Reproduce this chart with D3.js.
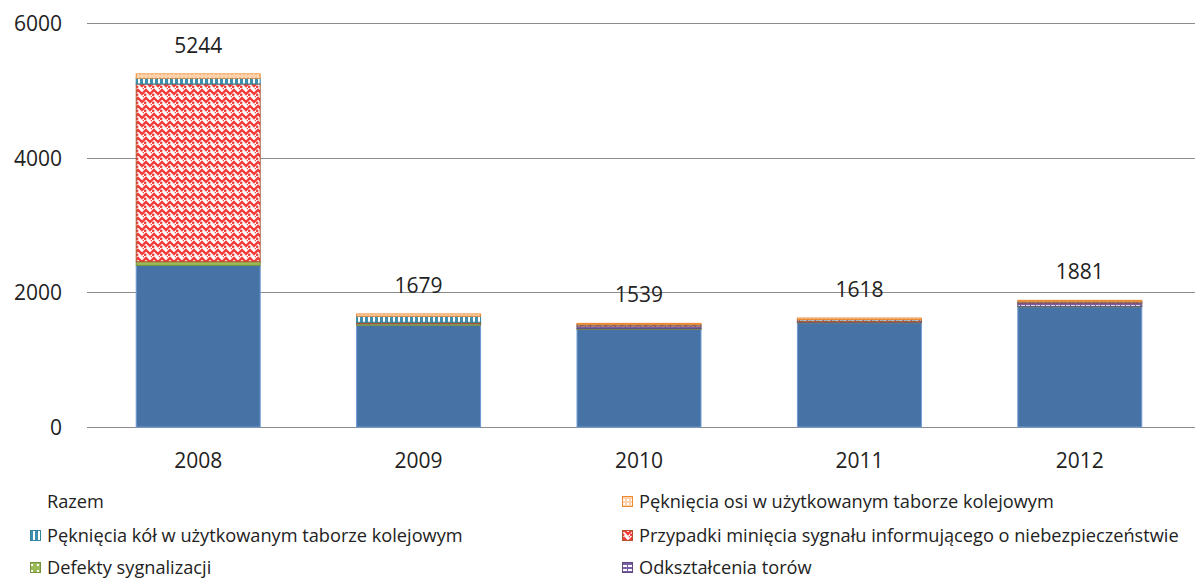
<!DOCTYPE html>
<html>
<head>
<meta charset="utf-8">
<script src="https://cdn.jsdelivr.net/npm/d3@7"></script>
<style>
	body { margin: 0; background: #fff; }
	text { font-family: "Open Sans", sans-serif; fill: #222; }
</style>
</head>
<body>
<div id="chart"></div>
<script>
// Dane
var years = ["2008", "2009", "2010", "2011", "2012"];
var razem = [5244, 1679, 1539, 1618, 1881];
var szyny = [2400, 1510, 1455, 1550, 1790];
var defekty = [55, 25, 5, 5, 3];
var tory = [0, 5, 40, 10, 50];
var minieciaSygnalu = [2640, 15, 20, 30, 20];
var pekniecieKol = [85, 90, 4, 3, 3];
var pekniecieOsi = [64, 34, 15, 20, 15];
var yTicks = [0, 2000, 4000, 6000];

var width = 1195, height = 581;

// serie od dołu do góry
var series = [
	{name: "Pęknięcia szyn", values: szyny, fill: "#4672a5", stroke: "#6e9ad6", legend: false},
	{name: "Defekty sygnalizacji", values: defekty, fill: "url(#pDef)", stroke: "#77933c", legend: true},
	{name: "Odkształcenia torów", values: tory, fill: "url(#pTory)", stroke: "#604a7b", legend: true},
	{name: "Przypadki minięcia sygnału informującego o niebezpieczeństwie", values: minieciaSygnalu, fill: "url(#pSyg)", stroke: "#b0532a", legend: true},
	{name: "Pęknięcia kół w użytkowanym taborze kolejowym", values: pekniecieKol, fill: "url(#pKol)", stroke: "#31859c", legend: true},
	{name: "Pęknięcia osi w użytkowanym taborze kolejowym", values: pekniecieOsi, fill: "url(#pOsi)", stroke: "#f08a30", legend: true}
];

var svg = d3.select("#chart").append("svg")
	.attr("width", width)
	.attr("height", height);

// wzory
var defs = svg.append("defs");

var p = defs.append("pattern").attr("id", "pDef").attr("patternUnits", "userSpaceOnUse").attr("width", 6).attr("height", 6);
p.append("rect").attr("width", 6).attr("height", 6).attr("fill", "#9bbb59");
p.append("rect").attr("x", 1).attr("y", 2).attr("width", 2).attr("height", 2).attr("fill", "#fff");

p = defs.append("pattern").attr("id", "pTory").attr("patternUnits", "userSpaceOnUse").attr("width", 5).attr("height", 4);
p.append("rect").attr("width", 5).attr("height", 4).attr("fill", "#fff");
p.append("rect").attr("width", 5).attr("height", 1).attr("fill", "#7a5ea8");
p.append("rect").attr("y", 3).attr("width", 5).attr("height", 1).attr("fill", "#7a5ea8");
p.append("rect").attr("x", 0).attr("width", 1).attr("height", 4).attr("fill", "#7a5ea8");

p = defs.append("pattern").attr("id", "pSyg").attr("patternUnits", "userSpaceOnUse").attr("width", 8).attr("height", 8);
p.append("rect").attr("width", 8).attr("height", 8).attr("fill", "#fff");
p.append("path").attr("d", "M-2,6 L2,2 L6,6 L10,2 M-2,10 L2,6 M6,-2 L10,2").attr("stroke", "#f43c3c").attr("stroke-width", 2.4).attr("fill", "none");

p = defs.append("pattern").attr("id", "pKol").attr("patternUnits", "userSpaceOnUse").attr("width", 5).attr("height", 5);
p.append("rect").attr("width", 5).attr("height", 5).attr("fill", "#fff");
p.append("rect").attr("width", 3).attr("height", 5).attr("fill", "#3d8fb0");

p = defs.append("pattern").attr("id", "pOsi").attr("patternUnits", "userSpaceOnUse").attr("width", 4).attr("height", 4);
p.append("rect").attr("width", 4).attr("height", 4).attr("fill", "#fbd2ac");
p.append("rect").attr("x", 1).attr("y", 1).attr("width", 2).attr("height", 2).attr("fill", "#fff");

// skale
var x = d3.scaleBand()
	.domain(years)
	.range([88, 1190])
	.paddingInner(0.433)
	.paddingOuter(0.2165);

var y = d3.scaleLinear()
	.domain([0, 6000])
	.range([427, 23]);

// siatka
svg.append("g")
	.selectAll("line")
	.data(yTicks)
	.enter()
	.append("line")
	.attr("x1", 87)
	.attr("x2", width)
	.attr("y1", d => Math.round(y(d)) + 0.5)
	.attr("y2", d => Math.round(y(d)) + 0.5)
	.attr("stroke", "#8c8c8c")
	.attr("stroke-width", 1);

// oś Y
var yAxis = svg.append("g")
	.attr("transform", "translate(62,0)")
	.call(d3.axisLeft(y).tickValues(yTicks).tickFormat(d3.format("d")).tickSize(0).tickPadding(0));
yAxis.select(".domain").remove();
yAxis.selectAll("text")
	.attr("font-size", "21px")
	.attr("dy", "0.35em")
	.attr("fill", "#222");

// oś X
var xAxis = svg.append("g")
	.attr("transform", "translate(0,427)")
	.call(d3.axisBottom(x).tickSize(0).tickPadding(26));
xAxis.select(".domain").remove();
xAxis.selectAll("text")
	.attr("font-size", "21px")
	.attr("fill", "#222");

// słupki
var stackData = years.map(function (yr, i) {
	var row = {year: yr};
	series.forEach(function (s, j) { row["s" + j] = s.values[i]; });
	return row;
});
var stack = d3.stack().keys(series.map((s, j) => "s" + j));
var layers = stack(stackData);

svg.append("g")
	.selectAll("g")
	.data(layers)
	.enter()
	.append("g")
	.attr("fill", (d, j) => series[j].fill)
	.attr("stroke", (d, j) => series[j].stroke)
	.selectAll("rect")
	.data(d => d.filter(v => v[1] > v[0]))
	.enter()
	.append("rect")
	.attr("x", d => x(d.data.year) + 0.5)
	.attr("width", x.bandwidth() - 1)
	.attr("y", d => y(d[1]))
	.attr("height", d => Math.max(0.5, y(d[0]) - y(d[1])))
	.attr("stroke-width", 1);

// etykiety sum
svg.append("g")
	.selectAll("text")
	.data(years)
	.enter()
	.append("text")
	.attr("x", d => x(d) + x.bandwidth() / 2)
	.attr("y", (d, i) => y(razem[i]) - 21)
	.attr("text-anchor", "middle")
	.attr("font-size", "21px")
	.text((d, i) => razem[i]);

// legenda
var legendItems = [
	{name: "Razem", fill: null, col: 0, row: 0},
	{name: series[5].name, fill: series[5].fill, stroke: series[5].stroke, col: 1, row: 0},
	{name: series[4].name, fill: series[4].fill, stroke: series[4].stroke, col: 0, row: 1},
	{name: series[3].name, fill: series[3].fill, stroke: series[3].stroke, col: 1, row: 1},
	{name: series[1].name, fill: series[1].fill, stroke: series[1].stroke, col: 0, row: 2},
	{name: series[2].name, fill: series[2].fill, stroke: series[2].stroke, col: 1, row: 2}
];
var colX = [30, 622];
var rowY = [502, 536, 568];

var leg = svg.append("g")
	.selectAll("g")
	.data(legendItems)
	.enter()
	.append("g")
	.attr("transform", d => "translate(" + colX[d.col] + "," + rowY[d.row] + ")");

leg.filter(d => d.fill)
	.append("rect")
	.attr("x", 0.5)
	.attr("y", -5.5)
	.attr("width", 10)
	.attr("height", 10)
	.attr("fill", d => d.fill)
	.attr("stroke", d => d.stroke);

leg.append("text")
	.attr("x", 17)
	.attr("dy", "0.35em")
	.attr("font-size", "18.2px")
	.text(d => d.name);
</script>
</body>
</html>
